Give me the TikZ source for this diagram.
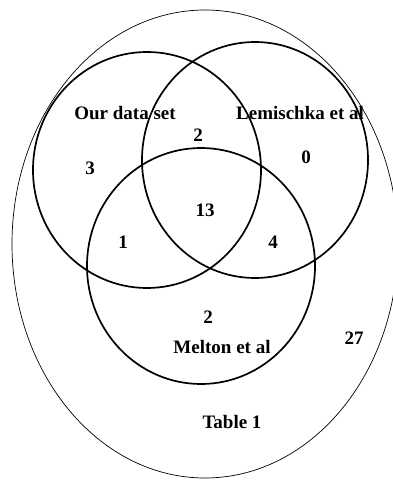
\documentclass[tikz,border=0pt]{standalone}
\usepackage{fontspec}
\setmainfont{Liberation Serif}
\usetikzlibrary{positioning}

\begin{document}
\begin{tikzpicture}[
    x=1pt, y=-1pt,
    setline/.style={draw, line width=1.7pt},
    outerline/.style={draw, line width=0.7pt},
    lbl/.style={font=\fontsize{19}{22}\selectfont\bfseries, inner sep=0pt}
  ]
  \useasboundingbox (0,0) rectangle (392,481);

  % Outer set
  \draw[outerline] (205,244) ellipse [x radius=193, y radius=234];

  % Three data sets
  \draw[setline] (147,170) ellipse [x radius=114, y radius=118];
  \draw[setline] (255,160) ellipse [x radius=113, y radius=118];
  \draw[setline] (201,266) ellipse [x radius=114, y radius=118];

  % Set names
  \node[lbl] (ours) at (125,113) {Our data set};
  \node[lbl] (lemischka) at (300,113) {Lemischka et al};
  \node[lbl] (melton) at (222,347) {Melton et al};
  \node[lbl] (table) at (232,422) {Table 1};

  % Counts
  \node[lbl] (nA) at (90,168) {3};
  \node[lbl] (nAB) at (198,135) {2};
  \node[lbl] (nB) at (306,157) {0};
  \node[lbl] (nABC) at (205,210) {13};
  \node[lbl] (nAC) at (123,242) {1};
  \node[lbl] (nBC) at (273,242) {4};
  \node[lbl] (nC) at (208,317) {2};
  \node[lbl] (nOut) at (354,338) {27};
\end{tikzpicture}
\end{document}
